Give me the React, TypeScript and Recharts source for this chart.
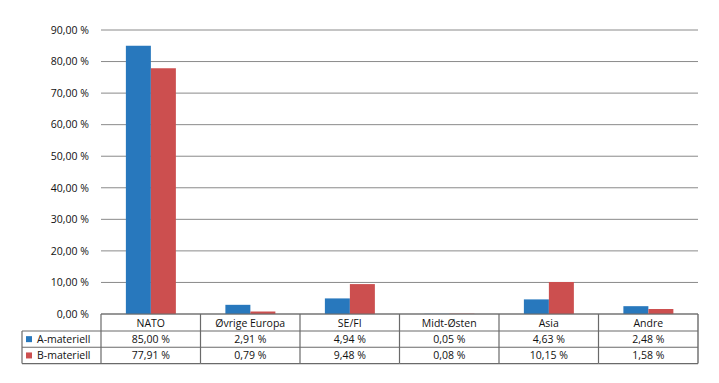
import { BarChart, Bar, XAxis, YAxis, CartesianGrid } from 'recharts'

const categories = ['NATO', 'Øvrige Europa', 'SE/FI', 'Midt-Østen', 'Asia', 'Andre']
const aMateriell = [85.0, 2.91, 4.94, 0.05, 4.63, 2.48]
const bMateriell = [77.91, 0.79, 9.48, 0.08, 10.15, 1.58]
const yTicks = [0, 10, 20, 30, 40, 50, 60, 70, 80, 90]

const series = [
  { key: 'a', name: 'A-materiell', color: '#2878bd', values: aMateriell },
  { key: 'b', name: 'B-materiell', color: '#cc4f4f', values: bMateriell },
]

const data = categories.map((c, i) => ({ cat: c, a: aMateriell[i], b: bMateriell[i] }))

const W = 719
const H = 383
const M = { top: 30, right: 21, left: 0, bottom: 20 }
const Y_W = 101
const ROW = 16.3
const HEAD = 17
const FONT = '"Open Sans", "DejaVu Sans", sans-serif'
const LINE = '#6a6a6a'
const TXT = '#111'

const fmt = (v: number) => v.toFixed(2).replace('.', ',') + ' %'

const plotW = W - M.left - M.right - Y_W
const cellW = plotW / categories.length

const TableTick = (props: any) => {
  const { x, y, payload } = props
  const i = payload.index
  const left = x - cellW / 2
  const bottom = y + HEAD + ROW * series.length
  return (
    <g>
      <line x1={left} y1={y} x2={left} y2={bottom} stroke={LINE} strokeWidth={1.2} />
      {i === categories.length - 1 && (
        <line x1={left + cellW} y1={y} x2={left + cellW} y2={bottom} stroke={LINE} strokeWidth={1.4} />
      )}
      <text x={x} y={y + HEAD / 2 + 4} textAnchor="middle" fontSize={10.5} fill={TXT} fontFamily={FONT}>
        {payload.value}
      </text>
      {series.map((s, r) => (
        <g key={s.key}>
          <line x1={left} y1={y + HEAD + ROW * r} x2={left + cellW} y2={y + HEAD + ROW * r} stroke={LINE} strokeWidth={1.1} />
          <text x={x} y={y + HEAD + ROW * r + ROW / 2 + 4} textAnchor="middle" fontSize={10.5} fill={TXT} fontFamily={FONT}>
            {fmt(s.values[i])}
          </text>
        </g>
      ))}
      <line x1={left} y1={bottom} x2={left + cellW} y2={bottom} stroke={LINE} strokeWidth={1.4} />
      {i === 0 && (
        <g>
          <line x1={22} y1={y + HEAD} x2={22} y2={bottom} stroke={LINE} strokeWidth={1.2} />
          {series.map((s, r) => (
            <g key={s.key}>
              <line x1={22} y1={y + HEAD + ROW * r} x2={left} y2={y + HEAD + ROW * r} stroke={LINE} strokeWidth={1.1} />
              <rect x={26} y={y + HEAD + ROW * r + ROW / 2 - 3} width={6} height={6} fill={s.color} />
              <text x={37} y={y + HEAD + ROW * r + ROW / 2 + 4} fontSize={10.5} fill={TXT} fontFamily={FONT}>
                {s.name}
              </text>
            </g>
          ))}
          <line x1={22} y1={bottom} x2={left} y2={bottom} stroke={LINE} strokeWidth={1.4} />
        </g>
      )}
    </g>
  )
}

export default function App() {
  return (
    <div style={{ position: 'absolute', left: 0, top: 0, width: W, height: H, background: '#fff' }}>
      <BarChart width={W} height={H} data={data} margin={M} barGap={0} barCategoryGap="25%">
        <CartesianGrid vertical={false} stroke="#8a8a8a" strokeWidth={1} />
        <XAxis
          dataKey="cat"
          axisLine={{ stroke: LINE, strokeWidth: 1.2 }}
          tickLine={false}
          tickSize={0}
          tickMargin={0}
          height={49}
          interval={0}
          tick={<TableTick />}
        />
        <YAxis
          width={Y_W}
          domain={[0, 90]}
          ticks={yTicks}
          tickFormatter={fmt}
          axisLine={false}
          tickLine={false}
          tickMargin={6}
          tick={{ fontSize: 10.5, fill: TXT, fontFamily: FONT }}
        />
        {series.map((s) => (
          <Bar key={s.key} dataKey={s.key} name={s.name} fill={s.color} isAnimationActive={false} />
        ))}
      </BarChart>
    </div>
  )
}
